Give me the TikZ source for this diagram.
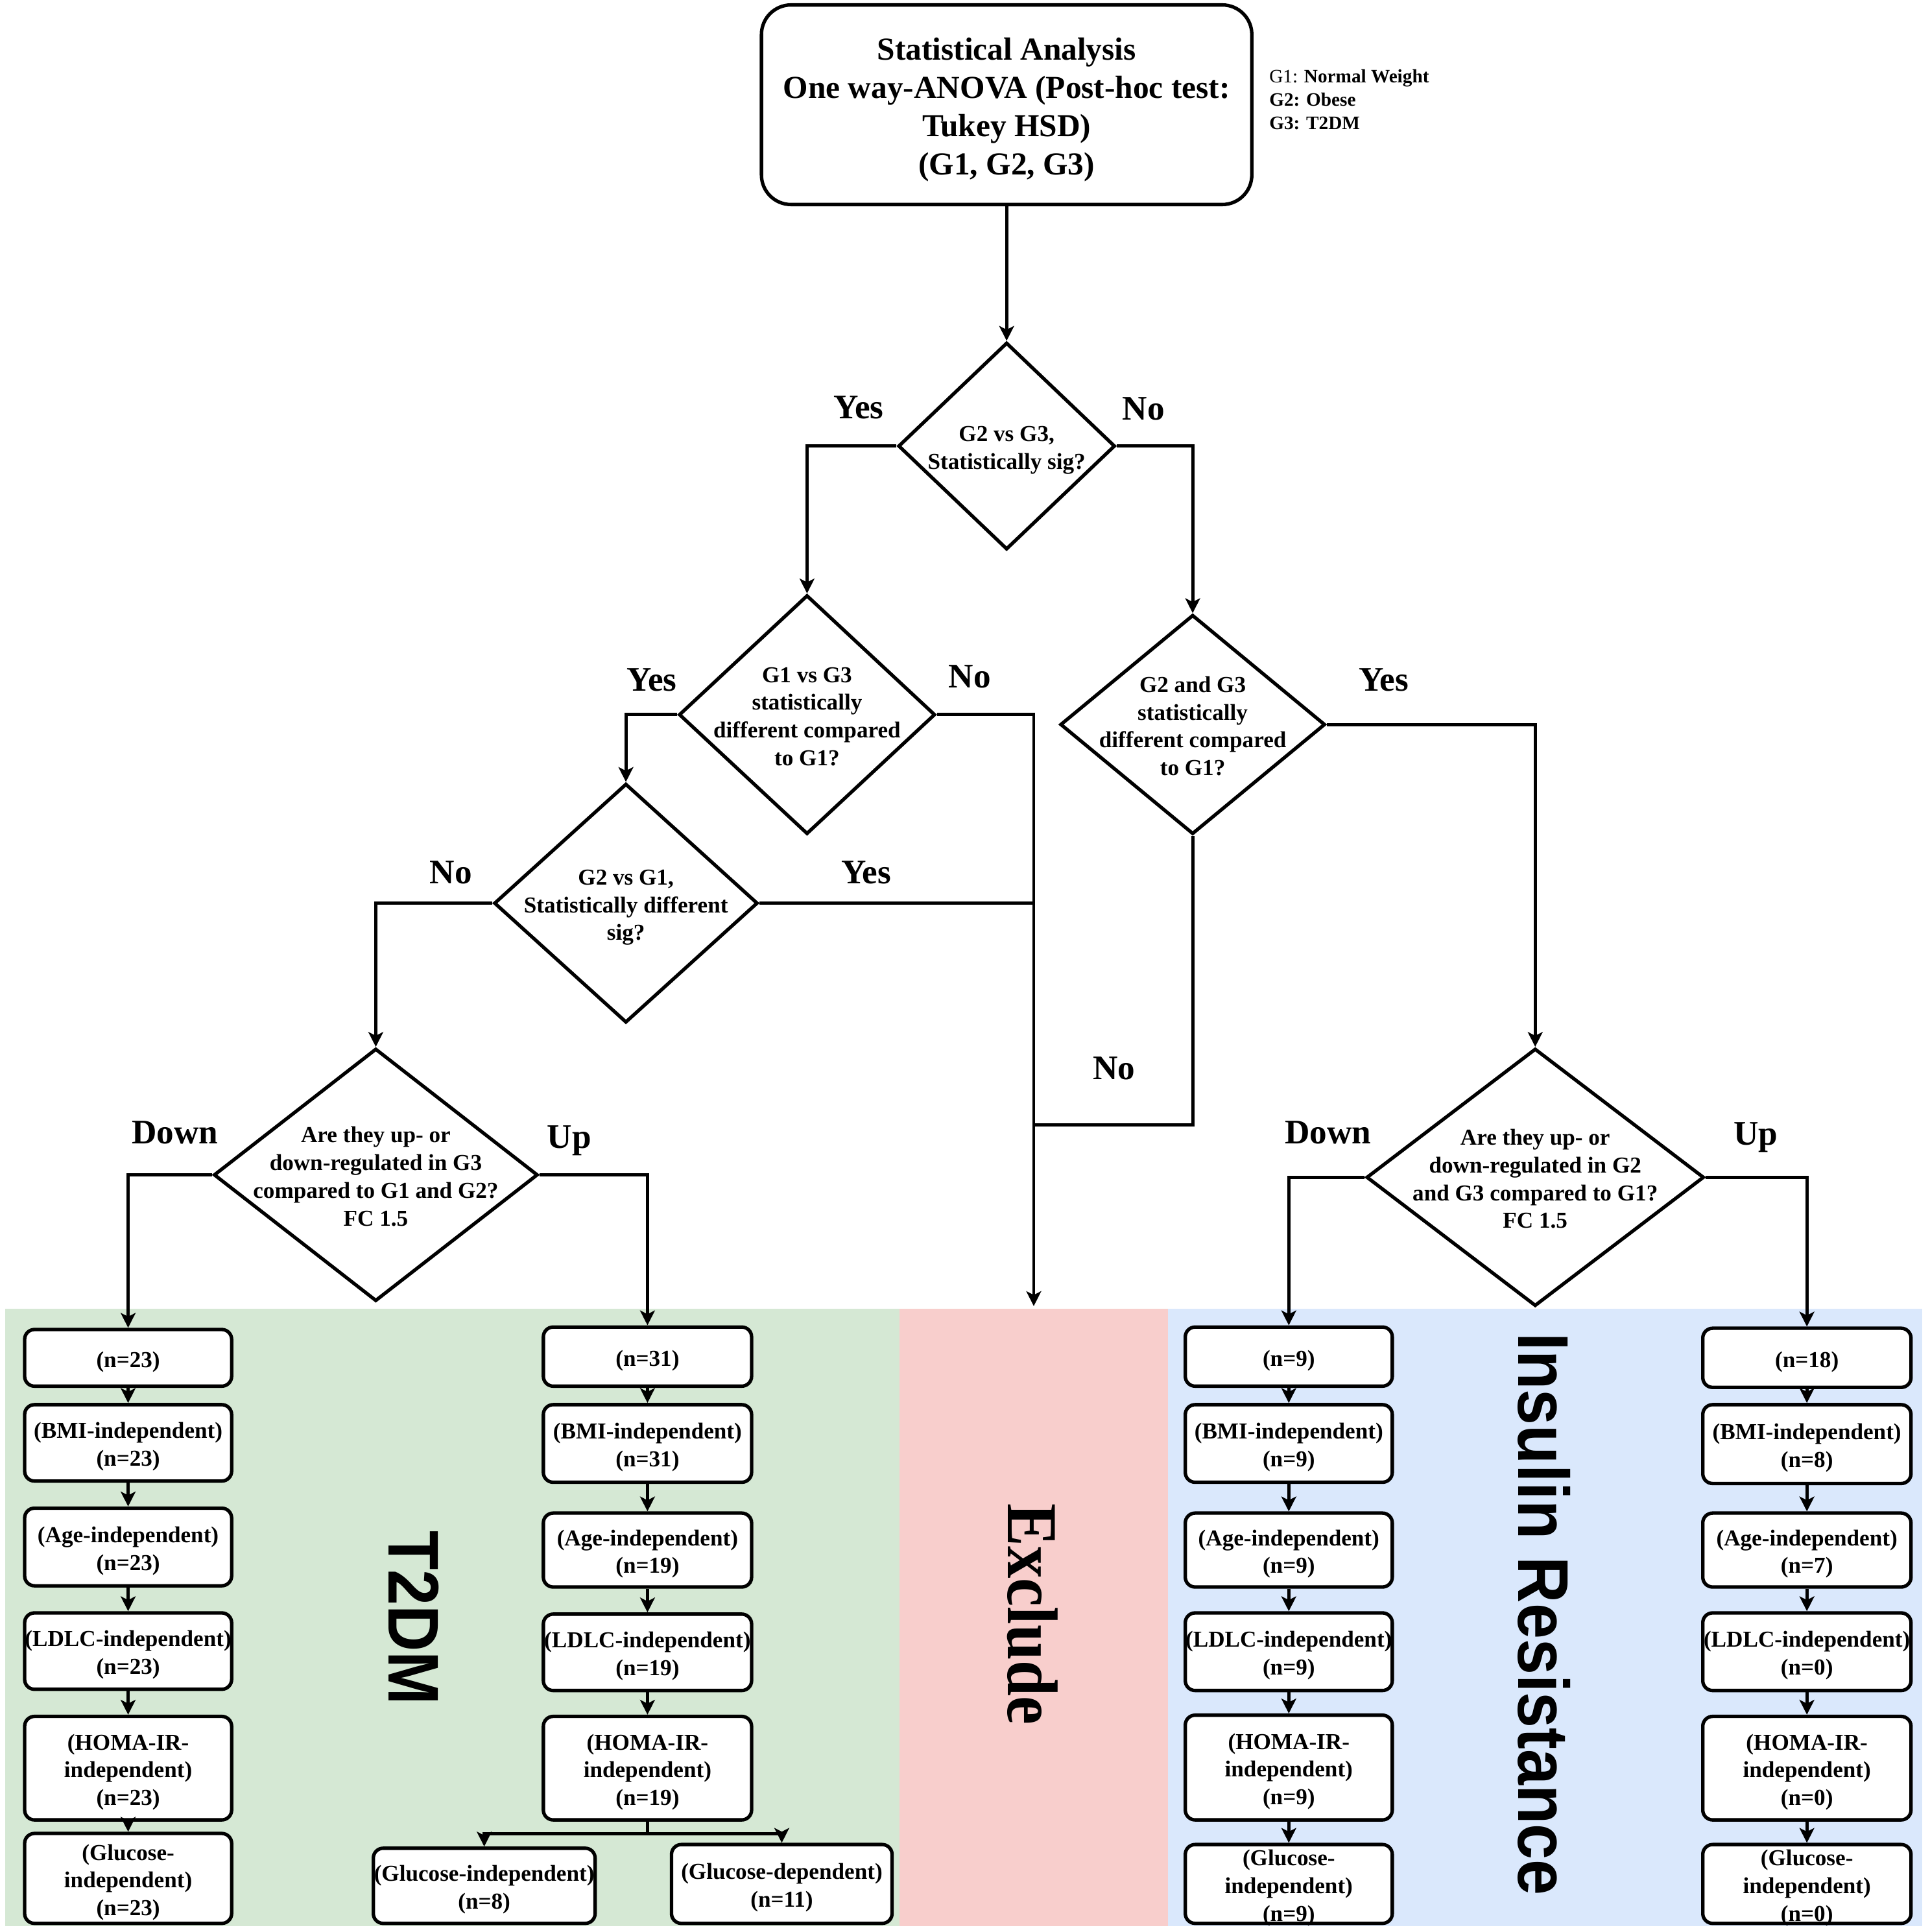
\documentclass[tikz,border=0pt]{standalone}
\usepackage{fontspec}
\setmainfont{Liberation Serif}
\newfontfamily\sansfam{Liberation Sans}
\usetikzlibrary{shapes.geometric,arrows.meta}
\newcommand{\ctext}[1]{\makebox[0pt]{\smash{\raisebox{-0.4em}{\begin{tabular}{@{}c@{}}#1\end{tabular}}}}}
\newcommand{\boxfont}{\fontsize{18.5}{22.5}\selectfont\bfseries}
\begin{document}
\begin{tikzpicture}[x=1pt,y=-1pt,
  cbox/.style={draw, line width=2.8pt, rounded corners=8pt, fill=white, inner sep=0pt, font=\boxfont},
  dia/.style={draw, diamond, line width=2.8pt, fill=white, inner sep=0pt, font=\boxfont},
  arr/.style={line width=2.6pt, -{Stealth[length=12pt,width=12pt,inset=3pt]}},
  ln/.style={line width=2.6pt},
  lbl/.style={font=\fontsize{28}{33}\selectfont\bfseries, anchor=base, inner sep=0pt},
  big/.style={rotate=-90, inner sep=0pt}
]
\useasboundingbox (0,0) rectangle (1566,1568);
% background regions
\fill[fill={rgb,255:red,213;green,232;blue,212}] (4,1062) rectangle (730,1563);
\fill[fill={rgb,255:red,248;green,206;blue,204}] (730,1062) rectangle (948,1563);
\fill[fill={rgb,255:red,218;green,232;blue,252}] (948,1062) rectangle (1560,1563);

% big vertical labels
\node[big] (t2dm) at (336,1313) {\scalebox{1}[1.12]{\fontsize{52}{60}\selectfont\sansfam\bfseries T2DM}};
\node[big] (excl) at (838,1310) {\scalebox{1}[1.12]{\fontsize{52}{60}\selectfont\bfseries Exclude}};
\node[big] (insr) at (1253,1310) {\scalebox{1}[1.12]{\fontsize{52}{60}\selectfont\sansfam\bfseries Insulin Resistance}};

% top box
\node[draw, line width=2.8pt, rounded corners=24pt, fill=white, inner sep=0pt,
      minimum width=398pt, minimum height=162pt, font=\fontsize{26}{31}\selectfont\bfseries] (top) at (817,85)
  {\ctext{Statistical Analysis\\ One way-ANOVA (Post-hoc test:\\ Tukey HSD)\\ (G1, G2, G3)}};
\node[anchor=north west, inner sep=0pt, align=left, font=\fontsize{15.4}{19}\selectfont] (legend) at (1030,56)
  {G1: \textbf{Normal Weight}\\ \textbf{G2: Obese}\\ \textbf{G3: T2DM}};

% diamonds
\node[dia, minimum width=176pt, minimum height=168pt] (d1) at (817,362)
  {\ctext{G2 vs G3,\\ Statistically sig?}};
\node[dia, minimum width=208pt, minimum height=194pt] (d2) at (655,580)
  {\ctext{G1 vs G3\\ statistically\\ different compared\\ to G1?}};
\node[dia, minimum width=214pt, minimum height=194pt] (d4) at (508,733)
  {\ctext{G2 vs G1,\\ Statistically different\\ sig?}};
\node[dia, minimum width=215pt, minimum height=178pt] (d3) at (968,588)
  {\ctext{G2 and G3\\ statistically\\ different compared\\ to G1?}};
\node[dia, minimum width=263pt, minimum height=205pt] (d5) at (305,953.5)
  {\ctext{Are they up- or\\ down-regulated in G3\\ compared to G1 and G2?\\ FC 1.5}};
\node[dia, minimum width=274pt, minimum height=209pt] (d6) at (1246,955.5)
  {\ctext{Are they up- or\\ down-regulated in G2\\ and G3 compared to G1?\\ FC 1.5}};

% branch labels
\node[lbl] (y1) at (697,340) {Yes};
\node[lbl] (n1) at (928,341) {No};
\node[lbl] (y2) at (529,561) {Yes};
\node[lbl] (n2) at (787,558) {No};
\node[lbl] (n4) at (366,717) {No};
\node[lbl] (y4) at (703,717) {Yes};
\node[lbl] (y3) at (1123,561) {Yes};
\node[lbl] (n3) at (904,876) {No};
\node[lbl] (dn5) at (142,928) {Down};
\node[lbl] (up5) at (462,932) {Up};
\node[lbl] (dn6) at (1078,928) {Down};
\node[lbl] (up6) at (1425,929) {Up};

% left column (T2DM down)
\node[cbox, minimum width=168pt, minimum height=46pt] (L1) at (104,1102) {\ctext{(n=23)}};
\node[cbox, minimum width=168pt, minimum height=62pt] (L2) at (104,1171) {\ctext{(BMI-independent)\\ (n=23)}};
\node[cbox, minimum width=168pt, minimum height=63pt] (L3) at (104,1255.5) {\ctext{(Age-independent)\\ (n=23)}};
\node[cbox, minimum width=168pt, minimum height=62pt] (L4) at (104,1340) {\ctext{(LDLC-independent)\\ (n=23)}};
\node[cbox, minimum width=168pt, minimum height=84pt] (L5) at (104,1435) {\ctext{(HOMA-IR-\\ independent)\\ (n=23)}};
\node[cbox, minimum width=168pt, minimum height=73pt] (L6) at (104,1524.5) {\ctext{(Glucose-\\ independent)\\ (n=23)}};

% second column (T2DM up)
\node[cbox, minimum width=169pt, minimum height=48pt] (R1) at (525.5,1101) {\ctext{(n=31)}};
\node[cbox, minimum width=169pt, minimum height=63pt] (R2) at (525.5,1171.5) {\ctext{(BMI-independent)\\ (n=31)}};
\node[cbox, minimum width=169pt, minimum height=60pt] (R3) at (525.5,1258) {\ctext{(Age-independent)\\ (n=19)}};
\node[cbox, minimum width=169pt, minimum height=62pt] (R4) at (525.5,1341) {\ctext{(LDLC-independent)\\ (n=19)}};
\node[cbox, minimum width=169pt, minimum height=84pt] (R5) at (525.5,1435) {\ctext{(HOMA-IR-\\ independent)\\ (n=19)}};
\node[cbox, minimum width=180pt, minimum height=61pt] (Gi) at (393,1530.5) {\ctext{(Glucose-independent)\\ (n=8)}};
\node[cbox, minimum width=179pt, minimum height=64pt] (Gd) at (634.5,1529) {\ctext{(Glucose-dependent)\\ (n=11)}};

% third column (IR down)
\node[cbox, minimum width=168pt, minimum height=48pt] (B1) at (1046,1101) {\ctext{(n=9)}};
\node[cbox, minimum width=168pt, minimum height=63pt] (B2) at (1046,1171.5) {\ctext{(BMI-independent)\\ (n=9)}};
\node[cbox, minimum width=168pt, minimum height=60pt] (B3) at (1046,1258) {\ctext{(Age-independent)\\ (n=9)}};
\node[cbox, minimum width=168pt, minimum height=63pt] (B4) at (1046,1340.5) {\ctext{(LDLC-independent)\\ (n=9)}};
\node[cbox, minimum width=168pt, minimum height=85pt] (B5) at (1046,1434.5) {\ctext{(HOMA-IR-\\ independent)\\ (n=9)}};
\node[cbox, minimum width=168pt, minimum height=64pt] (B6) at (1046,1529) {\ctext{(Glucose-\\ independent)\\ (n=9)}};

% fourth column (IR up)
\node[cbox, minimum width=169pt, minimum height=48pt] (C1) at (1466.5,1102) {\ctext{(n=18)}};
\node[cbox, minimum width=169pt, minimum height=64pt] (C2) at (1466.5,1172) {\ctext{(BMI-independent)\\ (n=8)}};
\node[cbox, minimum width=169pt, minimum height=60pt] (C3) at (1466.5,1258) {\ctext{(Age-independent)\\ (n=7)}};
\node[cbox, minimum width=169pt, minimum height=63pt] (C4) at (1466.5,1340.5) {\ctext{(LDLC-independent)\\ (n=0)}};
\node[cbox, minimum width=169pt, minimum height=84pt] (C5) at (1466.5,1435) {\ctext{(HOMA-IR-\\ independent)\\ (n=0)}};
\node[cbox, minimum width=169pt, minimum height=64pt] (C6) at (1466.5,1529) {\ctext{(Glucose-\\ independent)\\ (n=0)}};

% connectors in the decision tree
\draw[arr] (top.south) -- (d1.north);
\draw[arr] (d1.west) -| (d2.north);
\draw[arr] (d1.east) -| (d3.north);
\draw[arr] (d2.west) -| (d4.north);
\draw[arr] (d4.west) -| (d5.north);
\draw[arr] (d3.east) -| (d6.north);
\coordinate (exc) at (839,1060);
\coordinate (join) at (839,913);
\draw[arr] (d2.east) -| (exc);
\draw[ln] (d4.east) -- (d4.east -| exc);
\draw[ln] (d3.south) |- (join);
\draw[arr] (d5.west) -| (L1.north);
\draw[arr] (d5.east) -| (R1.north);
\draw[arr] (d6.west) -| (B1.north);
\draw[arr] (d6.east) -| (C1.north);

% column chains
\foreach \a/\b in {L1/L2,L2/L3,L3/L4,L4/L5,L5/L6,R1/R2,R2/R3,R3/R4,R4/R5,B1/B2,B2/B3,B3/B4,B4/B5,B5/B6,C1/C2,C2/C3,C3/C4,C4/C5,C5/C6}
  \draw[arr] (\a.south) -- (\b.north);
\coordinate (split) at (525.5,1488);
\draw[ln] (R5.south) -- (split);
\draw[arr] (split) -| (Gi.north);
\draw[arr] (split) -| (Gd.north);
\end{tikzpicture}
\end{document}
